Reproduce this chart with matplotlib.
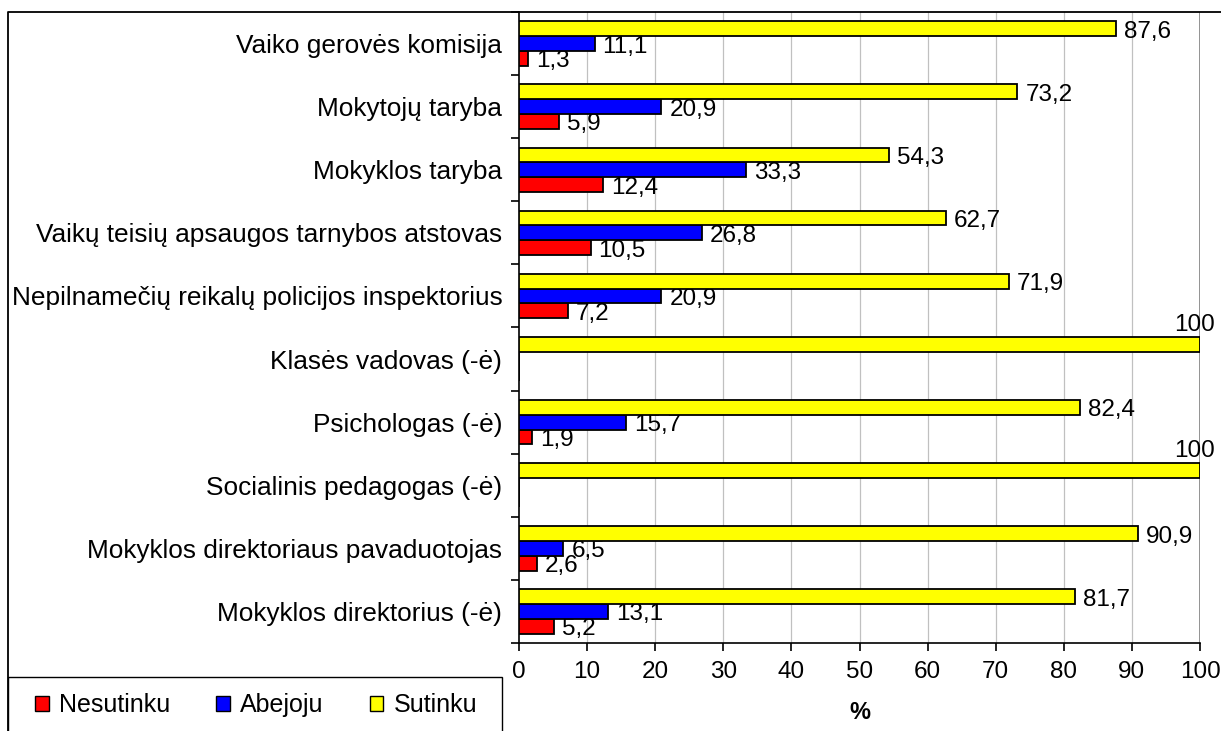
import matplotlib
matplotlib.use('Agg')
import matplotlib.pyplot as plt
from matplotlib.patches import Patch, Rectangle
from matplotlib.lines import Line2D
import numpy as np

plt.rcParams['font.family'] = ['Liberation Sans', 'DejaVu Sans']

categories = [
    'Vaiko gerovės komisija',
    'Mokytojų taryba',
    'Mokyklos taryba',
    'Vaikų teisių apsaugos tarnybos atstovas',
    'Nepilnamečių reikalų policijos inspektorius',
    'Klasės vadovas (-ė)',
    'Psichologas (-ė)',
    'Socialinis pedagogas (-ė)',
    'Mokyklos direktoriaus pavaduotojas',
    'Mokyklos direktorius (-ė)',
]
nesutinku = [1.3, 5.9, 12.4, 10.5, 7.2, 0, 1.9, 0, 2.6, 5.2]
abejoju = [11.1, 20.9, 33.3, 26.8, 20.9, 0, 15.7, 0, 6.5, 13.1]
sutinku = [87.6, 73.2, 54.3, 62.7, 71.9, 100, 82.4, 100, 90.9, 81.7]
series_names = ['Nesutinku', 'Abejoju', 'Sutinku']
colors = ['#ff0000', '#0000ff', '#ffff00']
x_ticks = list(range(0, 101, 10))

FS = 18
W, H = 1221, 731
fig = plt.figure(figsize=(W / 100, H / 100), dpi=100)
ax = fig.add_axes([519 / W, 1 - 643 / H, (1200 - 519) / W, (643 - 12) / H])

y = np.arange(len(categories))
h = 0.235
offsets = [h, 0, -h]  # red bottom, blue middle, yellow top (axis inverted)
for vals, name, col, off in zip([nesutinku, abejoju, sutinku], series_names, colors, offsets):
    ax.barh(y + off, vals, height=h, color=col, edgecolor='black', linewidth=1.3, zorder=3)
    for yy, v in zip(y + off, vals):
        if v == 0:
            continue
        txt = f'{v:g}'.replace('.', ',')
        if v >= 100:
            ax.annotate(txt, xy=(v, yy - h / 2), xytext=(-5, 1), textcoords='offset pixels',
                        ha='center', va='bottom', fontsize=FS - 0.5)
        else:
            ax.annotate(txt, xy=(v, yy), xytext=(8, -3), textcoords='offset pixels',
                        ha='left', va='center', fontsize=FS - 0.5)

ax.set_xlim(0, 100)
ax.set_ylim(len(categories) - 0.5, -0.5)
ax.set_xticks(x_ticks)
ax.set_xticklabels([str(t) for t in x_ticks], fontsize=FS - 0.5)
ax.set_yticks(y)
ax.set_yticklabels(categories, fontsize=FS + 0.9)
ax.set_yticks(np.arange(len(categories) + 1) - 0.5, minor=True)
ax.tick_params(axis='y', which='major', length=0, pad=12)
ax.tick_params(axis='y', which='minor', length=6, width=1.2, direction='out')
ax.tick_params(axis='x', length=6, width=1.2, direction='out', pad=7)
ax.set_xlabel('%', fontsize=FS - 1, fontweight='bold', labelpad=13)

for t in x_ticks[1:-1]:
    ax.axvline(t, color='#c0c0c0', linewidth=0.9, zorder=1)
ax.axvline(100, color='#808080', linewidth=1.2, zorder=1)

for s in ['top', 'right']:
    ax.spines[s].set_visible(False)
for s in ['left', 'bottom']:
    ax.spines[s].set_linewidth(1.2)
    ax.spines[s].set_color('black')

# outer chart border (left and top visible)
fig.add_artist(Line2D([8 / W, 8 / W, 1.05], [-0.05, 1 - 12 / H, 1 - 12 / H],
                      transform=fig.transFigure, color='black', linewidth=1.3, clip_on=False))

# legend box
fig.add_artist(Rectangle((8 / W, -0.05), (502 - 8) / W, 0.05 + (731 - 677) / H,
                         transform=fig.transFigure, facecolor='white', edgecolor='black',
                         linewidth=1.0, clip_on=False))
handles = [Patch(facecolor=c, edgecolor='black', linewidth=1.0) for c in colors]
fig.legend(handles, series_names, loc='center', bbox_to_anchor=(256 / W, 1 - 705 / H),
           ncol=3, frameon=False, fontsize=FS, handlelength=0.55, handleheight=0.55,
           handletextpad=0.4, columnspacing=1.85)

fig.savefig('out.png', dpi=100)
